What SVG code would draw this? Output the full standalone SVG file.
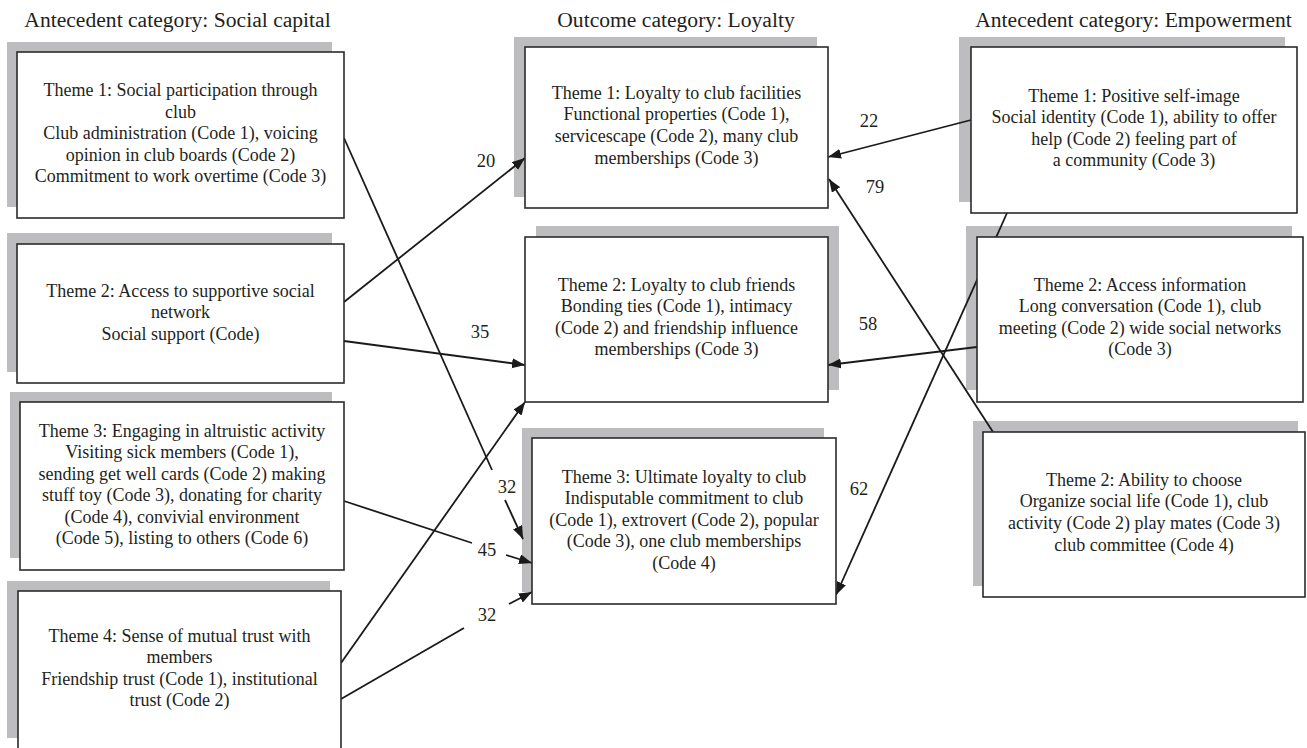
<svg xmlns="http://www.w3.org/2000/svg" width="1307" height="748" viewBox="0 0 1307 748">
<style>
text{font-family:"Liberation Serif","Times New Roman",serif;fill:#231f20;text-anchor:middle}
.hd{font-size:21.6px}
.t{font-size:18px}
.lbl{font-size:18.5px}
.sh{fill:#bdbdbf;stroke:none}
.box{fill:#fff;stroke:#2b2b2b;stroke-width:1.6}
.cn{fill:none;stroke:#1a1a1a;stroke-width:1.8}
.ar{marker-end:url(#ah)}
</style>
<defs>
<marker id="ah" markerUnits="userSpaceOnUse" markerWidth="15" markerHeight="11" refX="13" refY="5" orient="auto">
<path d="M0,0 L13,5 L0,10 z" fill="#1a1a1a"/>
</marker>
</defs>
<rect width="1307" height="748" fill="#fff"/>

<g id="headers">
<text class="hd" x="177.5" y="27">Antecedent category: Social capital</text>
<text class="hd" x="676" y="27">Outcome category: Loyalty</text>
<text class="hd" x="1133.5" y="27">Antecedent category: Empowerment</text>
</g>

<g id="shadows">
<rect class="sh" x="7" y="42" width="325" height="165"/>
<rect class="sh" x="7" y="233" width="325" height="139"/>
<rect class="sh" x="10" y="392" width="322" height="166"/>
<rect class="sh" x="7" y="581" width="323" height="157"/>
<rect class="sh" x="514" y="37" width="303" height="160"/>
<rect class="sh" x="536" y="226" width="303" height="164"/>
<rect class="sh" x="522" y="428" width="302" height="164"/>
<rect class="sh" x="959" y="37" width="326" height="165"/>
<rect class="sh" x="966" y="226" width="326" height="164"/>
<rect class="sh" x="973" y="421" width="325" height="165"/>
</g>

<g id="connectors">
<line class="cn ar" x1="344" y1="302" x2="525" y2="158"/>
<line class="cn ar" x1="344" y1="341" x2="525" y2="365"/>
<line class="cn" x1="344" y1="138" x2="492" y2="470"/>
<line class="cn ar" x1="505" y1="500" x2="523" y2="539"/>
<line class="cn" x1="344" y1="501" x2="472" y2="543"/>
<line class="cn ar" x1="506" y1="555" x2="532" y2="563"/>
<line class="cn" x1="341" y1="699" x2="464" y2="628"/>
<line class="cn ar" x1="509" y1="604" x2="532" y2="592"/>
<line class="cn ar" x1="341" y1="663" x2="525" y2="402"/>
<line class="cn ar" x1="971" y1="120" x2="828" y2="157"/>
<line class="cn ar" x1="993" y1="432" x2="829" y2="179"/>
<line class="cn ar" x1="977" y1="347" x2="828" y2="365"/>
<line class="cn ar" x1="1007" y1="213" x2="836" y2="595"/>
<text class="lbl" x="486" y="167">20</text>
<text class="lbl" x="480" y="338">35</text>
<text class="lbl" x="507" y="493">32</text>
<text class="lbl" x="487" y="556">45</text>
<text class="lbl" x="487" y="621">32</text>
<text class="lbl" x="869" y="127">22</text>
<text class="lbl" x="875" y="193">79</text>
<text class="lbl" x="868" y="330">58</text>
<text class="lbl" x="859" y="495">62</text>
</g>

<g id="sc-theme1">
<rect class="box" x="17" y="52" width="327" height="166"/>
<text class="t" x="180.5" y="96">Theme 1: Social participation through</text>
<text class="t" x="180.5" y="117.5">club</text>
<text class="t" x="180.5" y="139">Club administration (Code 1), voicing</text>
<text class="t" x="180.5" y="160.5">opinion in club boards (Code 2)</text>
<text class="t" x="180.5" y="182">Commitment to work overtime (Code 3)</text>
</g>

<g id="sc-theme2">
<rect class="box" x="17" y="244" width="327" height="139"/>
<text class="t" x="180.5" y="296.5">Theme 2: Access to supportive social</text>
<text class="t" x="180.5" y="318">network</text>
<text class="t" x="180.5" y="339.5">Social support (Code)</text>
</g>

<g id="sc-theme3">
<rect class="box" x="20" y="402" width="324" height="168"/>
<text class="t" x="182" y="436.5">Theme 3: Engaging in altruistic activity</text>
<text class="t" x="182" y="458">Visiting sick members (Code 1),</text>
<text class="t" x="182" y="479.5">sending get well cards (Code 2) making</text>
<text class="t" x="182" y="501">stuff toy (Code 3), donating for charity</text>
<text class="t" x="182" y="522.5">(Code 4), convivial environment</text>
<text class="t" x="182" y="544">(Code 5),  listing to others (Code 6)</text>
</g>

<g id="sc-theme4">
<rect class="box" x="18" y="591" width="323" height="162"/>
<text class="t" x="179.5" y="641.5">Theme 4: Sense of mutual trust with</text>
<text class="t" x="179.5" y="663">members</text>
<text class="t" x="179.5" y="684.5">Friendship trust (Code 1), institutional</text>
<text class="t" x="179.5" y="706">trust (Code 2)</text>
</g>

<g id="loy-theme1">
<rect class="box" x="525" y="47" width="303" height="161"/>
<text class="t" x="676.5" y="98.5">Theme 1: Loyalty to club facilities</text>
<text class="t" x="676.5" y="120.2">Functional properties (Code 1),</text>
<text class="t" x="676.5" y="141.9">servicescape (Code 2), many club</text>
<text class="t" x="676.5" y="163.6">memberships (Code 3)</text>
</g>

<g id="loy-theme2">
<rect class="box" x="525" y="237" width="303" height="165"/>
<text class="t" x="676.5" y="290.5">Theme 2: Loyalty to club friends</text>
<text class="t" x="676.5" y="312">Bonding ties (Code 1), intimacy</text>
<text class="t" x="676.5" y="333.5">(Code 2) and friendship influence</text>
<text class="t" x="676.5" y="355">memberships (Code 3)</text>
</g>

<g id="loy-theme3">
<rect class="box" x="532" y="438" width="304" height="166"/>
<text class="t" x="684" y="482.5">Theme 3: Ultimate loyalty to club</text>
<text class="t" x="684" y="504">Indisputable commitment to club</text>
<text class="t" x="684" y="525.5">(Code 1), extrovert (Code 2), popular</text>
<text class="t" x="684" y="547">(Code 3), one club memberships</text>
<text class="t" x="684" y="568.5">(Code 4)</text>
</g>

<g id="emp-theme1">
<rect class="box" x="971" y="47" width="326" height="166"/>
<text class="t" x="1134" y="101.5">Theme 1: Positive self-image</text>
<text class="t" x="1134" y="123">Social identity (Code 1), ability to offer</text>
<text class="t" x="1134" y="144.5">help (Code 2) feeling part of</text>
<text class="t" x="1134" y="166">a community (Code 3)</text>
</g>

<g id="emp-theme2">
<rect class="box" x="977" y="237" width="326" height="165"/>
<text class="t" x="1140" y="290.5">Theme 2: Access information</text>
<text class="t" x="1140" y="312">Long conversation (Code 1), club</text>
<text class="t" x="1140" y="333.5">meeting (Code 2) wide social networks</text>
<text class="t" x="1140" y="355">(Code 3)</text>
</g>

<g id="emp-theme3">
<rect class="box" x="983" y="432" width="322" height="165"/>
<text class="t" x="1144" y="485.5">Theme 2: Ability to choose</text>
<text class="t" x="1144" y="507">Organize social life (Code 1), club</text>
<text class="t" x="1144" y="528.5">activity (Code 2) play mates (Code 3)</text>
<text class="t" x="1144" y="551">club committee (Code 4)</text>
</g>
</svg>
